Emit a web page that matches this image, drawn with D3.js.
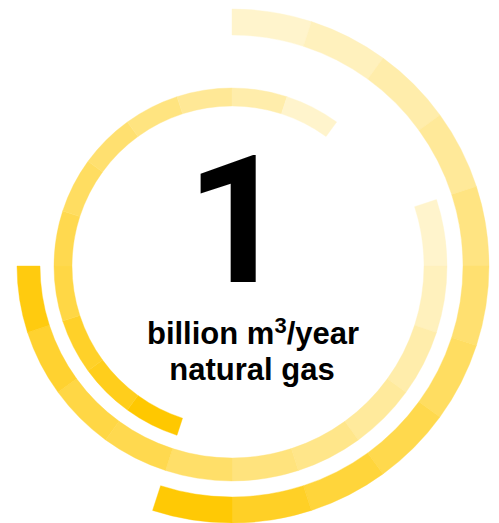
<!DOCTYPE html>
<html>
<head>
<meta charset="utf-8">
<script src="https://cdn.jsdelivr.net/npm/d3@7"></script>
<style>
  html, body { margin: 0; padding: 0; background: #ffffff; }
  svg { display: block; }
</style>
</head>
<body>
<svg id="chart" width="499" height="523"></svg>
<script>
// ---- data ----
const ringNames = ["outer", "middle", "inner"];
const ringStartDeg = [0, 72, 198];           // where each ring begins (clockwise from 12 o'clock)
const segmentDeg = 18;                         // each segment spans 18 degrees
const outerValues  = [0.2, 0.26, 0.33, 0.4, 0.49, 0.56, 0.62, 0.7, 0.77, 0.85, 0.98];
const middleValues = [0.2, 0.26, 0.33, 0.39, 0.46, 0.51, 0.59, 0.69, 0.73, 0.81, 0.94];
const innerValues  = [1.0, 0.89, 0.84, 0.73, 0.69, 0.62, 0.56, 0.5, 0.41, 0.33, 0.2];
const bigNumber = "1";
const unitLine1 = "billion m";
const unitSup = "3";
const unitLine1b = "/year";
const unitLine2 = "natural gas";

// ---- layout ----
const svg = d3.select("#chart");
const cx = 232, cy = 266;
const radii = [[231, 257], [192, 215], [160, 178]];
const seriesValues = [outerValues, middleValues, innerValues];

const color = d3.scaleLinear().domain([0, 1]).range(["#ffffff", "#ffc800"]);
const angle = d3.scaleLinear().domain([0, 360]).range([0, 2 * Math.PI]);

const g = svg.append("g").attr("transform", `translate(${cx},${cy})`);

ringNames.forEach((name, ri) => {
  const arc = d3.arc().innerRadius(radii[ri][0]).outerRadius(radii[ri][1]);
  const segs = seriesValues[ri].map((v, i) => ({
    v,
    startAngle: angle(ringStartDeg[ri] + i * segmentDeg),
    endAngle: angle(ringStartDeg[ri] + (i + 1) * segmentDeg)
  }));
  g.append("g").attr("class", "ring-" + name)
    .selectAll("path").data(segs).join("path")
    .attr("d", arc)
    .attr("fill", d => color(d.v))
    .attr("stroke", d => color(d.v))
    .attr("stroke-width", 0.4);
});

const font = "'Liberation Sans', Arial, Helvetica, sans-serif";
svg.append("text")
  .attr("x", 186).attr("y", 282)
  .attr("text-anchor", "start")
  .attr("font-family", "Roboto, 'Liberation Sans', sans-serif").attr("font-weight", "bold")
  .attr("font-size", 178).attr("fill", "#000")
  .text(bigNumber);

const t1 = svg.append("text")
  .attr("x", 253).attr("y", 344)
  .attr("text-anchor", "middle")
  .attr("font-family", font).attr("font-weight", "bold")
  .attr("font-size", 31).attr("fill", "#000");
t1.append("tspan").text(unitLine1);
t1.append("tspan").attr("dy", -11).attr("font-size", 22).text(unitSup);
t1.append("tspan").attr("dy", 11).text(unitLine1b);

svg.append("text")
  .attr("x", 252).attr("y", 380)
  .attr("text-anchor", "middle")
  .attr("font-family", font).attr("font-weight", "bold")
  .attr("font-size", 31).attr("fill", "#000")
  .text(unitLine2);
</script>
</body>
</html>
